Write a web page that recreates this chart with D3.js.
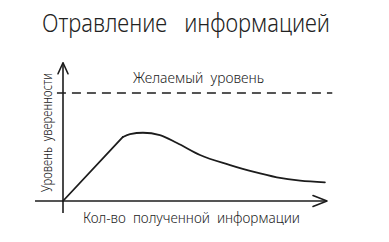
<!DOCTYPE html>
<html>
<head>
<meta charset="utf-8">
<script src="https://cdn.jsdelivr.net/npm/d3@7"></script>
<style>
  body { margin: 0; background: #fff; }
  text { font-family: "Noto Sans", "DejaVu Sans", sans-serif; fill: #222; font-weight: 300; white-space: pre; }
</style>
</head>
<body>
<div id="chart"></div>
<script>
// data (arbitrary units)
const infoAmount = [0, 2.27, 2.54, 3.03, 3.67, 4.32, 5.19, 6.33, 7.2, 8.1, 8.98, 9.92];
const confidence = [0, 5.93, 6.2, 6.32, 6.11, 5.37, 4.26, 3.33, 2.71, 2.19, 1.88, 1.73];
const desiredLevel = 10;

const titleText = "Отравление   информацией";
const desiredLabel = "Желаемый  уровень";
const xLabel = "Кол-во  полученной  информации";
const yLabel = "Уровень  уверенности";

const W = 389, H = 242;

const svg = d3.select("#chart")
  .append("svg")
    .attr("width", W)
    .attr("height", H);

const x = d3.scaleLinear().domain([0, 10]).range([63, 327]);
const y = d3.scaleLinear().domain([0, 10]).range([201, 93]);

const ink = "#1c1c1c";

// axes
svg.append("line")
  .attr("x1", x(0)).attr("x2", x(0))
  .attr("y1", y(12.8)).attr("y2", y(-1.1))
  .attr("stroke", ink).attr("stroke-width", 1.6);
svg.append("line")
  .attr("x1", x(-1.06)).attr("x2", x(10))
  .attr("y1", y(0)).attr("y2", y(0))
  .attr("stroke", ink).attr("stroke-width", 1.6);

// arrow heads
svg.append("path")
  .attr("d", `M${x(0) - 5},${y(12.8) + 11} L${x(0)},${y(12.8)} L${x(0) + 5},${y(12.8) + 11}`)
  .attr("fill", "none").attr("stroke", ink).attr("stroke-width", 1.6)
  .attr("stroke-linejoin", "round").attr("stroke-linecap", "round");
svg.append("path")
  .attr("d", `M${x(10) - 14},${y(0) - 5.5} L${x(10)},${y(0)} L${x(10) - 14},${y(0) + 5.5}`)
  .attr("fill", "none").attr("stroke", ink).attr("stroke-width", 1.6)
  .attr("stroke-linejoin", "round").attr("stroke-linecap", "round");

// desired level
svg.append("line")
  .attr("x1", x(-0.23)).attr("x2", x(10.2))
  .attr("y1", y(desiredLevel)).attr("y2", y(desiredLevel))
  .attr("stroke", ink).attr("stroke-width", 1.5)
  .attr("stroke-dasharray", "9,6");

// curve: straight rise, then smooth decline
const pts = infoAmount.map((v, i) => [v, confidence[i]]);
const rise = d3.line().x(d => x(d[0])).y(d => y(d[1]));
const fall = d3.line().x(d => x(d[0])).y(d => y(d[1])).curve(d3.curveMonotoneX);
[[rise, pts.slice(0, 2)], [fall, pts.slice(1)]].forEach(([gen, seg]) => {
  svg.append("path")
    .datum(seg)
    .attr("d", gen)
    .attr("fill", "none")
    .attr("stroke", ink)
    .attr("stroke-width", 1.8)
    .attr("stroke-linecap", "round");
});

// texts
svg.append("text")
  .attr("x", 42).attr("y", 32)
  .attr("font-size", 25)
  .attr("textLength", 288).attr("lengthAdjust", "spacingAndGlyphs")
  .text(titleText);

svg.append("text")
  .attr("x", 133).attr("y", 83)
  .attr("font-size", 14)
  .attr("textLength", 131).attr("lengthAdjust", "spacingAndGlyphs")
  .text(desiredLabel);

svg.append("text")
  .attr("x", 83).attr("y", 223)
  .attr("font-size", 14)
  .attr("textLength", 217).attr("lengthAdjust", "spacingAndGlyphs")
  .text(xLabel);

svg.append("text")
  .attr("transform", "translate(52,192) rotate(-90)")
  .attr("font-size", 14)
  .attr("textLength", 119).attr("lengthAdjust", "spacingAndGlyphs")
  .text(yLabel);
</script>
</body>
</html>
